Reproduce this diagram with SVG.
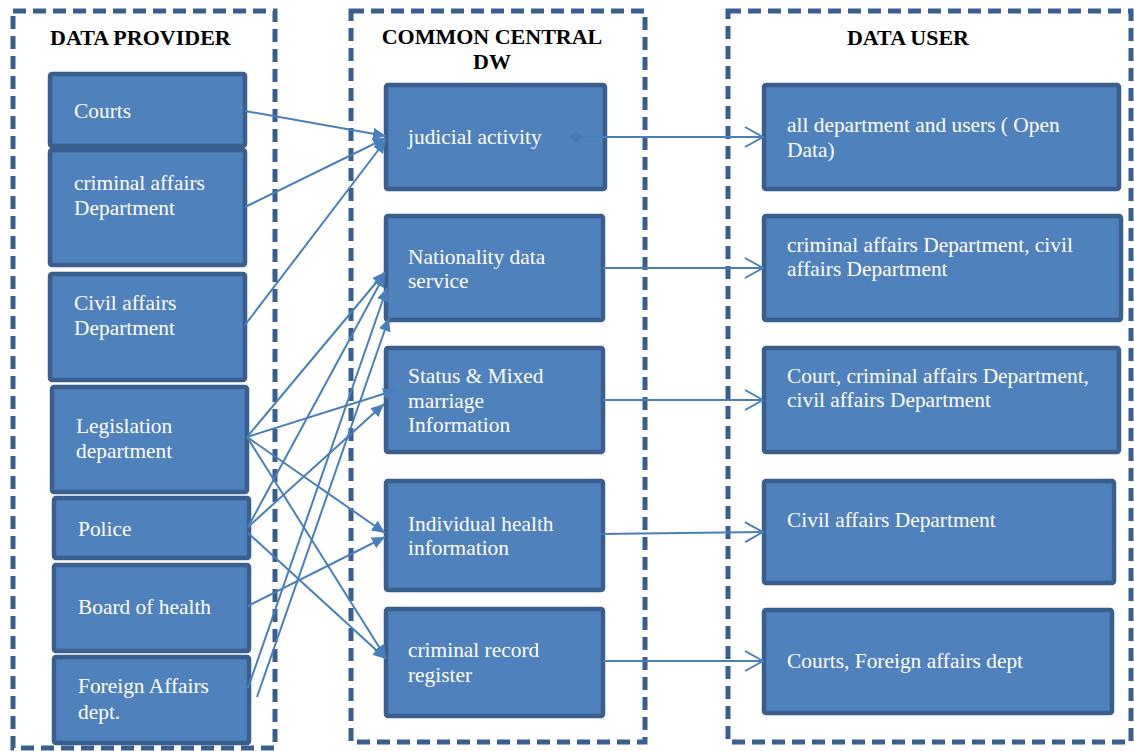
<svg xmlns="http://www.w3.org/2000/svg" width="1134" height="751" viewBox="0 0 1134 751">
<style>
.cont{fill:none;stroke:#3a5f8f;stroke-width:5;stroke-dasharray:13 7}
.box{fill:#4f81bd;stroke:#3a5f8f;stroke-width:4.5}
.t{font-family:"Liberation Serif","Times New Roman",serif;font-size:21.4px;fill:#ffffff}
.h{font-family:"Liberation Serif","Times New Roman",serif;font-size:22px;font-weight:bold;fill:#000000}
.c{fill:none;stroke:#4a7ebb;stroke-width:2}
.in{marker-end:url(#tri)}
.out{marker-end:url(#open)}
</style>
<defs>
<marker id="tri" markerUnits="userSpaceOnUse" markerWidth="14" markerHeight="12" refX="13" refY="6" orient="auto">
<path d="M0,0 L13,6 L0,12 z" fill="#4a7ebb"/>
</marker>
<marker id="open" markerUnits="userSpaceOnUse" markerWidth="22" markerHeight="24" refX="19" refY="11" orient="auto">
<path d="M1,1 L19,11 L1,21" fill="none" stroke="#4a7ebb" stroke-width="2"/>
</marker>
<marker id="dia" markerUnits="userSpaceOnUse" markerWidth="12" markerHeight="12" refX="6" refY="6" orient="auto">
<path d="M0,6 L6,0 L12,6 L6,12 z" fill="#4678b3"/>
</marker>
</defs>

<g id="container-provider">
<rect class="cont" x="13" y="11" width="262" height="737"/>
<text class="h" x="50" y="45">DATA PROVIDER</text>
</g>
<g id="container-dw">
<rect class="cont" x="351" y="11" width="294" height="731"/>
<text class="h" x="492" y="44" text-anchor="middle">COMMON CENTRAL</text>
<text class="h" x="492" y="69" text-anchor="middle">DW</text>
</g>
<g id="container-user">
<rect class="cont" x="728" y="11" width="403" height="731"/>
<text class="h" x="908" y="45" text-anchor="middle">DATA USER</text>
</g>

<g id="p-courts"><rect class="box" x="50" y="74" width="195" height="72" rx="2"/><text class="t" x="74" y="118">Courts</text></g>
<g id="p-criminal"><rect class="box" x="50" y="150" width="195" height="115" rx="2"/><text class="t" x="74" y="190">criminal affairs</text><text class="t" x="74" y="215">Department</text></g>
<g id="p-civil"><rect class="box" x="50" y="274" width="195" height="106" rx="2"/><text class="t" x="74" y="310">Civil affairs</text><text class="t" x="74" y="335">Department</text></g>
<g id="p-legislation"><rect class="box" x="52" y="387" width="195" height="105" rx="2"/><text class="t" x="76" y="433">Legislation</text><text class="t" x="76" y="458">department</text></g>
<g id="p-police"><rect class="box" x="54" y="498" width="195" height="60" rx="2"/><text class="t" x="78" y="536">Police</text></g>
<g id="p-health"><rect class="box" x="54" y="565" width="195" height="86" rx="2"/><text class="t" x="78" y="614">Board of health</text></g>
<g id="p-foreign"><rect class="box" x="54" y="657" width="195" height="86" rx="2"/><text class="t" x="78" y="693">Foreign Affairs</text><text class="t" x="78" y="719">dept.</text></g>

<g id="dw-judicial"><rect class="box" x="386" y="85" width="219" height="104" rx="2"/><text class="t" x="408" y="144">judicial activity</text></g>
<g id="dw-nationality"><rect class="box" x="386" y="216" width="217" height="104" rx="2"/><text class="t" x="408" y="264">Nationality data</text><text class="t" x="408" y="288">service</text></g>
<g id="dw-status"><rect class="box" x="386" y="348" width="217" height="104" rx="2"/><text class="t" x="408" y="383">Status &amp; Mixed</text><text class="t" x="408" y="408">marriage</text><text class="t" x="408" y="432">Information</text></g>
<g id="dw-health"><rect class="box" x="386" y="481" width="217" height="109" rx="2"/><text class="t" x="408" y="531">Individual health</text><text class="t" x="408" y="555">information</text></g>
<g id="dw-record"><rect class="box" x="386" y="609" width="217" height="107" rx="2"/><text class="t" x="408" y="657">criminal record</text><text class="t" x="408" y="682">register</text></g>

<g id="u-all"><rect class="box" x="764" y="85" width="355" height="104" rx="2"/><text class="t" x="787" y="132">all department and users ( Open</text><text class="t" x="787" y="157">Data)</text></g>
<g id="u-crimciv"><rect class="box" x="764" y="216" width="357" height="104" rx="2"/><text class="t" x="787" y="252">criminal affairs Department, civil</text><text class="t" x="787" y="276">affairs Department</text></g>
<g id="u-court"><rect class="box" x="764" y="348" width="355" height="104" rx="2"/><text class="t" x="787" y="383">Court, criminal affairs Department,</text><text class="t" x="787" y="407">civil affairs Department</text></g>
<g id="u-civil"><rect class="box" x="764" y="481" width="350" height="102" rx="2"/><text class="t" x="787" y="527">Civil affairs Department</text></g>
<g id="u-courts"><rect class="box" x="764" y="610" width="348" height="103" rx="2"/><text class="t" x="787" y="668">Courts, Foreign affairs dept</text></g>

<g id="connectors">
<line class="c in" x1="245" y1="111" x2="386" y2="136"/>
<line class="c in" x1="245" y1="207" x2="386" y2="138"/>
<line class="c in" x1="245" y1="325" x2="386" y2="140"/>
<line class="c in" x1="247" y1="437" x2="385" y2="272"/>
<line class="c in" x1="247" y1="437" x2="396" y2="390"/>
<line class="c in" x1="247" y1="437" x2="385" y2="533"/>
<line class="c in" x1="247" y1="437" x2="386" y2="658"/>
<line class="c in" x1="248" y1="527" x2="385" y2="274"/>
<line class="c in" x1="248" y1="527" x2="384" y2="404"/>
<line class="c in" x1="248" y1="533" x2="386" y2="659"/>
<line class="c in" x1="248" y1="606" x2="385" y2="537"/>
<line class="c in" x1="248" y1="688" x2="387" y2="288"/>
<line class="c in" x1="257" y1="697" x2="389" y2="318"/>
<line class="c out" x1="576" y1="137" x2="763" y2="137" marker-start="url(#dia)"/>
<line class="c out" x1="603" y1="268" x2="763" y2="268"/>
<line class="c out" x1="603" y1="400" x2="763" y2="400"/>
<line class="c out" x1="600" y1="534" x2="763" y2="532"/>
<line class="c out" x1="603" y1="661" x2="763" y2="661"/>
</g>
</svg>
